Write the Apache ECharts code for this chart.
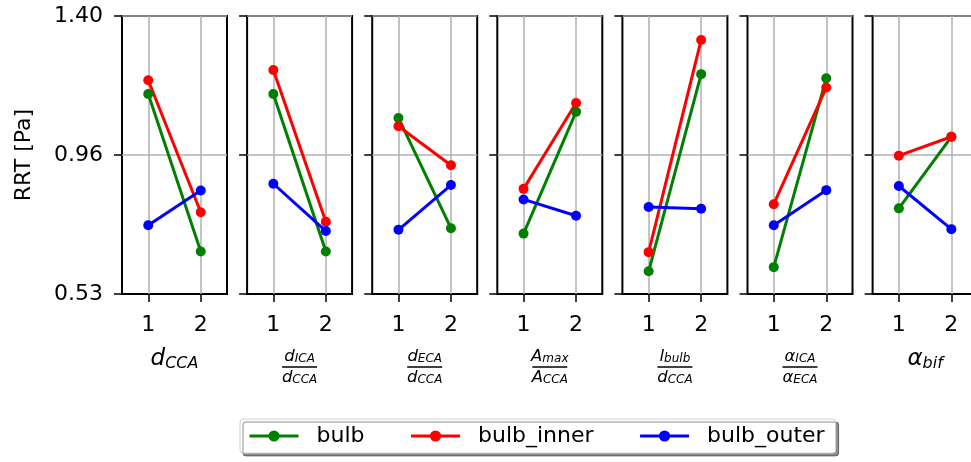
<!DOCTYPE html>
<html><head><meta charset="utf-8">
<script src="https://cdn.jsdelivr.net/npm/echarts@6/dist/echarts.min.js"></script>
<style>html,body{margin:0;padding:0;background:#fff}#c{width:971px;height:462px}</style>
</head><body><div id="c"></div>
<script>
// ---- data ----
const seriesNames = ['bulb', 'bulb_inner', 'bulb_outer'];
const seriesColors = ['#008000', '#ff0000', '#0000ff'];
const xLevels = [1, 2];
const xTickLabels = ['1', '2'];
const yMin = 0.53, yMax = 1.40;
const yTicks = [0.53, 0.965, 1.40];
const yTickLabels = ['0.53', '0.96', '1.40'];
const panelLabels = [
  '{i|d}{s|CCA}',
  '{ni|d}{ns|ICA}\n{bar| }\n{ni|d}{ns|CCA}',
  '{ni|d}{ns|ECA}\n{bar| }\n{ni|d}{ns|CCA}',
  '{ni|A}{ns|max}\n{bar| }\n{ni|A}{ns|CCA}',
  '{ni|l}{ns|bulb}\n{bar| }\n{ni|d}{ns|CCA}',
  '{ni|α}{ns|ICA}\n{bar| }\n{ni|α}{ns|ECA}',
  '{i|α}{s|bif}'
];
// values per panel: [level 1, level 2]
const bulbValues = [[1.156, 0.663], [1.156, 0.663], [1.081, 0.736], [0.719, 1.100], [0.601, 1.218], [0.614, 1.205], [0.798, 1.022]];
const bulbInnerValues = [[1.199, 0.786], [1.231, 0.756], [1.055, 0.933], [0.859, 1.128], [0.661, 1.325], [0.811, 1.176], [0.963, 1.022]];
const bulbOuterValues = [[0.745, 0.854], [0.875, 0.727], [0.731, 0.871], [0.826, 0.775], [0.802, 0.797], [0.745, 0.855], [0.868, 0.733]];
const allValues = [bulbValues, bulbInnerValues, bulbOuterValues];

// ---- layout ----
const FONT = 'DejaVu Sans';
const panelLeft0 = 122, panelStep = 125.1, panelWidth = 105, panelTop = 16, panelHeight = 278;

const rich = {
  i: {fontFamily: FONT, fontStyle: 'italic', fontSize: 23, lineHeight: 26, color: '#000', align: 'center'},
  s: {fontFamily: FONT, fontStyle: 'italic', fontSize: 16, lineHeight: 16, verticalAlign: 'bottom', color: '#000', align: 'center'},
  ni: {fontFamily: FONT, fontStyle: 'italic', fontSize: 16.5, lineHeight: 17, color: '#000', align: 'center'},
  ns: {fontFamily: FONT, fontStyle: 'italic', fontSize: 12, lineHeight: 12, verticalAlign: 'bottom', color: '#000', align: 'center'},
  bar: {width: 35, height: 1.3, lineHeight: 4, backgroundColor: '#000', fontSize: 1, align: 'center'}
};
const yLabelOf = v => {
  const k = yTicks.findIndex(t => Math.abs(t - v) < 1e-6);
  return k < 0 ? '' : yTickLabels[k];
};

const grids = [], xAxes = [], yAxes = [], series = [];
for (let p = 0; p < panelLabels.length; p++) {
  grids.push({
    left: panelLeft0 + p * panelStep, top: panelTop, width: panelWidth, height: panelHeight,
    show: true, borderColor: '#000', borderWidth: 2, backgroundColor: 'transparent',
    containLabel: false, outerBoundsMode: 'none'
  });
  xAxes.push({
    gridIndex: p, type: 'value', min: 0.5, max: 2.5,
    axisLine: {show: false},
    axisTick: {show: true, inside: false, length: 8, customValues: xLevels, lineStyle: {color: '#000', width: 1.5}},
    axisLabel: {show: true, customValues: xLevels, margin: 20, fontFamily: FONT, fontSize: 22, color: '#000',
      formatter: v => xTickLabels[xLevels.indexOf(v)]},
    splitLine: {show: true, lineStyle: {color: '#b0b0b0', width: 1.5}},
    name: panelLabels[p], nameLocation: 'middle', nameGap: p === 0 || p === 6 ? 52 : 54,
    nameTextStyle: {rich: rich, align: 'center'}
  });
  yAxes.push({
    gridIndex: p, type: 'value', min: yMin, max: yMax, interval: (yMax - yMin) / 2 - 1e-9,
    axisLine: {show: false},
    axisTick: {show: true, inside: false, length: 8, lineStyle: {color: '#000', width: 1.5}},
    axisLabel: {show: p === 0, margin: 19, fontFamily: FONT, fontSize: 22, color: '#000',
      showMinLabel: true, showMaxLabel: true, formatter: yLabelOf},
    splitLine: {show: true, showMinLine: false, showMaxLine: false, lineStyle: {color: '#b0b0b0', width: 1.5}},
    name: p === 0 ? 'RRT [Pa]' : '', nameLocation: 'middle', nameGap: 87, nameMoveOverlap: false,
    nameTextStyle: {fontFamily: FONT, fontSize: 22, color: '#000'}
  });
  for (let s = 0; s < seriesNames.length; s++) {
    series.push({
      type: 'line', name: seriesNames[s], xAxisIndex: p, yAxisIndex: p,
      data: xLevels.map((x, k) => [x, allValues[s][p][k]]),
      symbol: 'circle', symbolSize: 10, showSymbol: true,
      lineStyle: {color: seriesColors[s], width: 3},
      itemStyle: {color: seriesColors[s]},
      emphasis: {disabled: true}, animation: false, clip: false
    });
  }
}

const chart = echarts.init(document.getElementById('c'), null, {renderer: 'canvas'});
chart.setOption({
  animation: false,
  backgroundColor: '#fff',
  grid: grids, xAxis: xAxes, yAxis: yAxes, series: series,
  legend: {
    data: seriesNames, left: 240, top: 419, orient: 'horizontal',
    itemWidth: 49, itemHeight: 14, itemGap: 45,
    padding: [6, 11, 6, 8],
    backgroundColor: '#fff', borderColor: '#d0d0d0', borderWidth: 1, borderRadius: 3,
    shadowColor: 'rgba(0,0,0,0.45)', shadowOffsetX: 3, shadowOffsetY: 3, shadowBlur: 0,
    lineStyle: {width: 3},
    textStyle: {fontFamily: FONT, fontSize: 22, color: '#000', padding: [0, 0, 0, 13]},
    selectedMode: false
  }
});
</script></body></html>
